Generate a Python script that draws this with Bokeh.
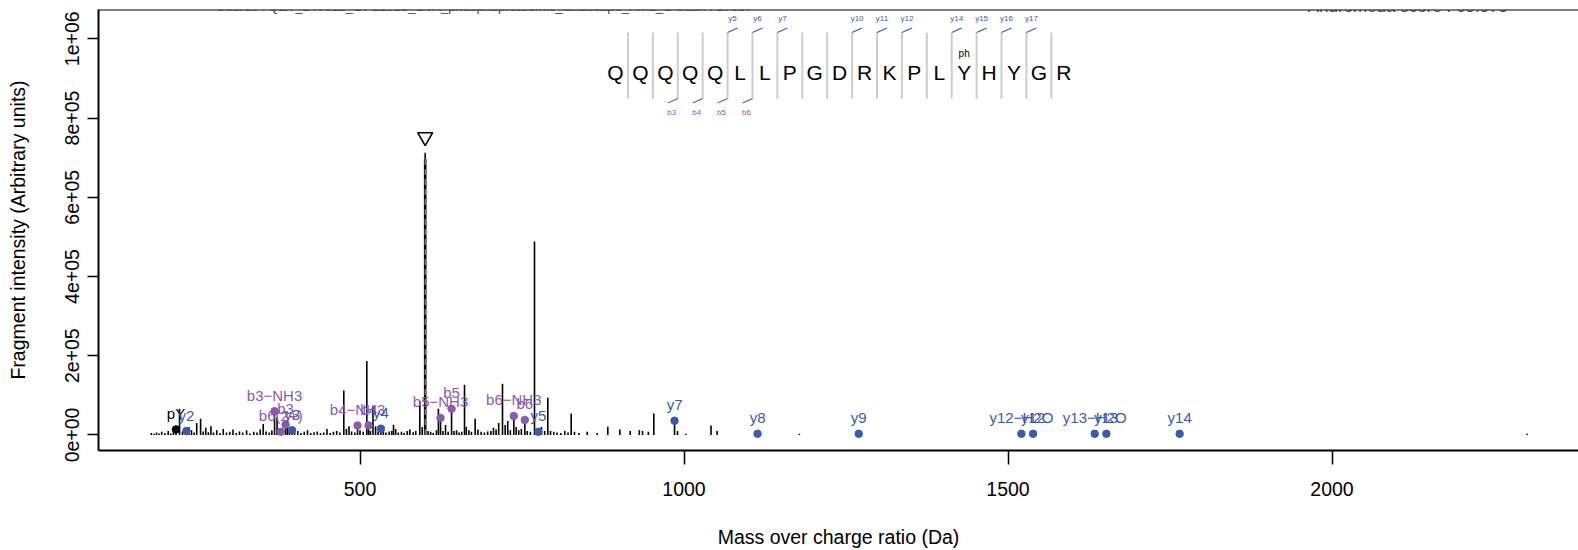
from bokeh.plotting import figure
from bokeh.models import Range1d, FixedTicker, Span, Label, ColumnDataSource
from bokeh.core.properties import value
from bokeh.embed import file_html
from bokeh.resources import INLINE

FONT = "Liberation Sans"
BLUE = "#3C5AAA"
PURPLE = "#8C5AAA"

# ---------------- data ----------------
peak_mz = [178, 182, 186, 190, 194, 199, 204, 208, 212, 216.04, 221.5, 226, 232.14, 236, 240, 244,
           248, 254, 258, 262, 266, 270, 274, 279, 284, 289, 294, 299, 304, 309, 314, 319, 325, 330,
           336, 341, 346, 350.6, 355, 360, 364, 368.15, 372, 377.7, 381, 385.18, 388, 391, 395.2, 399,
           404, 409, 414, 419, 424, 429, 434, 439, 444, 449, 454, 459, 464, 469, 475, 479, 483, 487,
           492, 496.21, 500, 505, 510.5, 513.24, 516, 520, 524, 528, 532.26, 536, 540, 545, 549, 551.7,
           555, 559, 564, 568, 573, 577, 582, 586, 592.3, 596, 605, 609, 613, 618, 621, 624.27, 628,
           632, 636, 641.3, 645, 649, 653, 657, 661.3, 664, 668, 672, 677.7, 682, 687, 692, 697, 702,
           706, 710, 714, 719.9, 724, 728, 732, 737.36, 741, 745, 749, 754.38, 758, 763, 769.3, 775.29,
           780, 785, 789.8, 794, 799, 804, 810, 816, 821, 825.9, 831, 838, 850.6, 866, 882.4, 901, 917,
           931, 936, 945, 953.4, 985.43, 990, 1003, 1041.7, 1051, 1113.5, 1178, 1269.6, 1520.7, 1538.7,
           1633.8, 1651.8, 1764.9, 2301]
peak_int = [5, 3, 6, 4, 8, 5, 10, 4, 7, 14, 66, 9, 10, 20, 12, 6,
            30, 41, 9, 18, 7, 22, 6, 12, 5, 15, 6, 8, 14, 5, 9, 6, 12, 4,
            8, 6, 14, 28, 9, 6, 11, 60, 45, 8, 12, 26, 34, 8, 12, 6,
            10, 5, 8, 12, 5, 7, 9, 5, 6, 15, 5, 8, 10, 6, 112, 15, 22, 9,
            6, 24, 12, 8, 187, 24, 10, 74, 22, 9, 16, 12, 6, 9, 10, 26,
            15, 6, 8, 5, 10, 14, 7, 10, 85, 20, 10, 8, 5, 12, 66, 43, 10,
            25, 8, 66, 10, 12, 6, 8, 127, 20, 12, 8, 41, 14, 8, 6, 9, 10,
            18, 14, 30, 129, 25, 35, 12, 48, 20, 12, 15, 38, 10, 8, 488, 8,
            20, 10, 94, 10, 8, 6, 5, 10, 6, 54, 8, 5, 8, 5, 21, 14, 10,
            12, 10, 8, 54, 36, 10, 3, 24, 10, 3, 3, 3, 3, 3,
            3, 3, 3, 3]
peak_int = [v * 1000 for v in peak_int]

precursor_mz = 600.6
precursor_int = 697000
precursor_marker_int = 752000

ion_labels = ["pY", "y2", "b3\u2212NH3", "b6(2+)", "b3", "y3", "b4\u2212NH3", "b4", "y4",
              "b5\u2212NH3", "b5", "b6\u2212NH3", "b6", "y5", "y7", "y8", "y9",
              "y12\u2212H2O", "y12", "y13\u2212H2O", "y13", "y14"]
ion_mz = [216.04, 232.14, 368.15, 377.7, 385.18, 395.2, 496.21, 513.24, 532.26,
          624.27, 641.3, 737.36, 754.38, 775.29, 985.43, 1113.5, 1269.6,
          1520.7, 1538.7, 1633.8, 1651.8, 1764.9]
ion_int = [14, 10, 60, 8, 26, 12, 24, 24, 16,
           43, 66, 48, 38, 8, 36, 3, 3,
           3, 3, 3, 3, 3]
ion_int = [v * 1000 for v in ion_int]
ion_kind = ["imm", "y", "b", "b", "b", "y", "b", "b", "y",
            "b", "b", "b", "b", "y", "y", "y", "y",
            "y", "y", "y", "y", "y"]

sequence = list("QQQQQLLPGDRKPLYHYGR")
phospho_index = 14
y_marks = [5, 6, 7, 10, 11, 12, 14, 15, 16, 17]
y_mark_labels = ["y5", "y6", "y7", "y10", "y11", "y12", "y14", "y15", "y16", "y17"]
b_marks = [3, 4, 5, 6]
b_mark_labels = ["b3", "b4", "b5", "b6"]

source_text = "Source : QET_140612_OPL1013_CVA_phosphoproteomic_landscape_AML_C   Scan : 17637"
score_text = "Andromeda score : 69.979"

y_ticks = [0, 200000, 400000, 600000, 800000, 1000000]
y_tick_labels = ["0e+00", "2e+05", "4e+05", "6e+05", "8e+05", "1e+06"]
x_ticks = [500, 1000, 1500, 2000]

# ---------------- layout params ----------------
X0, X1 = 96.45, 2380.4
Y0, Y1 = -39200, 1073870
PX = 1e6 / 398.0          # intensity units per pixel
DX = 1 / 0.648            # Da per pixel

seq_x0 = 894.3            # centre of first residue (Da)
seq_step = 38.43          # residue spacing (Da)
seq_y = 916000
sep_top = 1016000
sep_bot = 849000

color_of = {"y": BLUE, "b": PURPLE, "imm": "black"}

p = figure(width=1578, height=550, x_range=Range1d(X0, X1), y_range=Range1d(Y0, Y1),
           output_backend="svg", toolbar_location=None,
           min_border_left=98, min_border_right=0, min_border_top=9, min_border_bottom=98)
p.grid.visible = False
p.outline_line_color = None
p.background_fill_color = "white"
p.border_fill_color = "white"

# axes
xa = p.xaxis[0]
xa.ticker = FixedTicker(ticks=x_ticks)
xa.axis_label = "Mass over charge ratio (Da)"
ya = p.yaxis[0]
ya.ticker = FixedTicker(ticks=y_ticks)
ya.major_label_overrides = {t: l for t, l in zip(y_ticks, y_tick_labels)}
ya.axis_label = "Fragment intensity (Arbitrary units)"
ya.major_label_orientation = "vertical"
for ax in (xa, ya):
    ax.axis_line_width = 2
    ax.axis_line_color = "black"
    ax.major_tick_line_width = 1.5
    ax.major_tick_line_color = "black"
    ax.major_tick_in = 0
    ax.minor_tick_line_color = None
    ax.major_label_text_font = FONT
    ax.major_label_text_font_size = "19.5px"
    ax.major_label_text_color = "black"
    ax.axis_label_text_font = FONT
    ax.axis_label_text_font_size = "19.5px"
    ax.axis_label_text_font_style = "normal"
    ax.axis_label_text_color = "black"
xa.major_tick_out = 14
xa.major_label_standoff = 17
xa.axis_label_standoff = 27
ya.major_tick_out = 11
ya.major_label_standoff = 8
ya.axis_label_standoff = 34

p.add_layout(Span(location=Y1, dimension="width", line_color="black", line_width=2))

# spectrum
p.segment(x0=peak_mz, y0=[0] * len(peak_mz), x1=peak_mz, y1=peak_int,
          line_color="black", line_width=1.6)

# precursor
p.segment(x0=[precursor_mz], y0=[0], x1=[precursor_mz], y1=[precursor_int],
          line_color="black", line_width=2.6)
p.segment(x0=[precursor_mz], y0=[0], x1=[precursor_mz], y1=[precursor_int],
          line_color="#a8a8a8", line_width=1, line_dash="6 4")
p.segment(x0=[precursor_mz], y0=[precursor_int], x1=[precursor_mz],
          y1=[precursor_marker_int - 12 * PX],
          line_color="black", line_width=1.6, line_dash="6 4")
p.scatter(x=[precursor_mz], y=[precursor_marker_int], marker="inverted_triangle", size=15,
          fill_color=None, line_color="black", line_width=1.6)

# annotated ions
ions = ColumnDataSource(dict(x=ion_mz, y=ion_int, text=ion_labels,
                             color=[color_of[k] for k in ion_kind]))
p.scatter(x="x", y="y", source=ions, size=7.5, fill_color="color", line_color="color")
p.text(x="x", y="y", text="text", source=ions, text_color="color",
       text_font=value(FONT), text_font_size="15px", text_align="center",
       text_baseline="middle", y_offset=-16)

# peptide sequence
n = len(sequence)
res_x = [seq_x0 + i * seq_step for i in range(n)]
sep_x = [seq_x0 + (k - 0.5) * seq_step for k in range(1, n)]
p.segment(x0=sep_x, y0=[sep_bot] * len(sep_x), x1=sep_x, y1=[sep_top] * len(sep_x),
          line_color="#cccccc", line_width=2)
p.text(x=res_x, y=[seq_y] * n, text=sequence, text_font=value(FONT), text_font_size="21px",
       text_align="center", text_baseline="middle", text_color="black")
p.text(x=[res_x[phospho_index]], y=[seq_y + 18.5 * PX], text=["ph"], text_font=value(FONT),
       text_font_size="10px", text_align="center", text_baseline="middle", text_color="black")

ysx = [seq_x0 + (k - 0.5) * seq_step for k in y_marks]
p.segment(x0=ysx, y0=[sep_top] * len(ysx), x1=[x + 15.4 for x in ysx],
          y1=[sep_top + 4.4 * PX] * len(ysx), line_color=BLUE, line_width=1.2)
p.text(x=[x + 5 * DX for x in ysx], y=[sep_top + 13.5 * PX] * len(ysx), text=y_mark_labels,
       text_font=value(FONT), text_font_size="8px", text_align="center",
       text_baseline="middle", text_color=BLUE)

bsx = [seq_x0 + (k - 0.5) * seq_step for k in b_marks]
p.segment(x0=bsx, y0=[sep_bot] * len(bsx), x1=[x - 15.4 for x in bsx],
          y1=[sep_bot - 4.4 * PX] * len(bsx), line_color=PURPLE, line_width=1.2)
p.text(x=[x - 6 * DX for x in bsx], y=[sep_bot - 13.5 * PX] * len(bsx), text=b_mark_labels,
       text_font=value(FONT), text_font_size="8px", text_align="center",
       text_baseline="middle", text_color=PURPLE)

# header texts (cut off at the top as in the original)
p.add_layout(Label(x=697.7, y=Y1 + 3 * PX, text=source_text, text_font=FONT,
                   text_font_size="13px", text_align="center", text_baseline="alphabetic"))
p.add_layout(Label(x=2117, y=Y1 + 3 * PX, text=score_text, text_font=FONT,
                   text_font_size="17px", text_align="center", text_baseline="alphabetic"))

open("out.html", "w").write(file_html(p, INLINE))
